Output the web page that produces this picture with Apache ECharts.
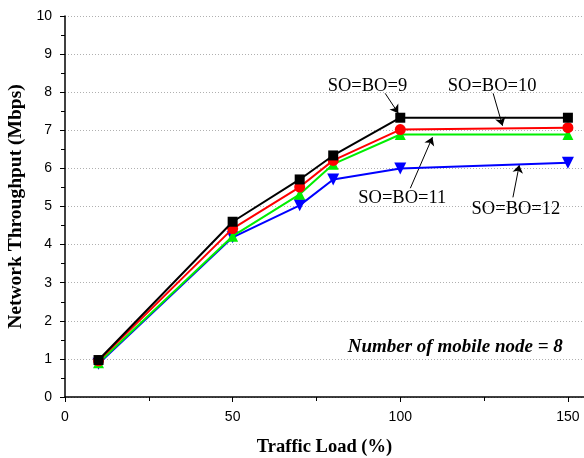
<!DOCTYPE html>
<html>
<head>
<meta charset="utf-8">
<script src="https://cdn.jsdelivr.net/npm/echarts@6/dist/echarts.min.js"></script>
<style>
html,body{margin:0;padding:0;background:#fff;}
#chart{width:584px;height:458px;}
</style>
</head>
<body>
<div id="chart"></div>
<script>
var trafficLoad = [10, 50, 70, 80, 100, 150];
var so9  = [0.97, 4.60, 5.71, 6.34, 7.33, 7.33];
var so10 = [0.95, 4.42, 5.51, 6.21, 7.02, 7.07];
var so11 = [0.90, 4.22, 5.32, 6.11, 6.89, 6.89];
var so12 = [0.87, 4.19, 5.03, 5.71, 6.00, 6.15];
var seriesNames = ['SO=BO=9', 'SO=BO=10', 'SO=BO=11', 'SO=BO=12'];
var xTicks = [0, 50, 100, 150];
var xAxisEnd = 154.8;
var yTicks = [0,1,2,3,4,5,6,7,8,9,10];

// annotation label positions and arrows (data coords)
var labelPos = [[90.2, 8.15], [127.4, 8.15], [100.6, 5.22], [134.5, 4.93]];
var arrows = [
  [[95.5, 7.97], [99.4, 7.45]],
  [[127.7, 7.97], [130.5, 7.12]],
  [[103.0, 5.48], [109.6, 6.82]],
  [[133.6, 5.24], [135.5, 6.09]]
];
var noteText = 'Number of mobile node = 8';
var notePos = [116.4, 1.31];

function pairs(ys){ return trafficLoad.map(function(x,i){ return [x, ys[i]]; }); }

var colors = ['#000000', '#ff0000', '#00ee00', '#0000ff'];
var symbols = ['rect', 'circle', 'triangle', 'path://M0,0 L10,0 L5,9 Z'];
var sizes = [10, 11, 11, 12];
var datasets = [so9, so10, so11, so12];

var series = datasets.map(function(d, i){
  return {
    name: seriesNames[i],
    type: 'line',
    data: pairs(d),
    symbol: symbols[i],
    symbolSize: sizes[i],
    showAllSymbol: true,
    z: 10 - i,
    lineStyle: {color: colors[i], width: 2},
    itemStyle: {color: colors[i]},
    animation: false
  };
});

series.push({
  type: 'scatter',
  data: [],
  silent: true,
  animation: false,
  itemStyle: {color: '#000'},
  markLine: {
    silent: true,
    animation: false,
    symbol: ['none', 'arrow'],
    symbolSize: 8,
    itemStyle: {color: '#000'},
    lineStyle: {color: '#000', width: 1, type: 'solid'},
    label: {show: false},
    data: arrows.map(function(a){ return [{coord: a[0]}, {coord: a[1]}]; })
  },
  markPoint: {
    silent: true,
    animation: false,
    symbol: 'circle',
    symbolSize: 0,
    data: labelPos.map(function(p, i){
      return {
        coord: p,
        label: {show: true, position: 'inside', formatter: seriesNames[i],
          color: '#000', fontFamily: 'Liberation Serif', fontSize: 18.5}
      };
    }).concat([{
      coord: notePos,
      label: {show: true, position: 'inside', formatter: noteText,
        color: '#000', fontFamily: 'Liberation Serif', fontSize: 19,
        fontWeight: 'bold', fontStyle: 'italic'}
    }])
  }
});

var chart = echarts.init(document.getElementById('chart'));
chart.setOption({
  animation: false,
  backgroundColor: '#fff',
  grid: {left: 65, right: 0, top: 16, bottom: 61, containLabel: false, outerBoundsMode: 'none'},
  xAxis: {
    type: 'value',
    min: xTicks[0], max: xAxisEnd, interval: 50,
    name: 'Traffic Load (%)',
    nameLocation: 'middle', nameGap: 41,
    nameTextStyle: {fontFamily: 'Liberation Serif', fontWeight: 'bold', fontSize: 18.5, color: '#000', padding: [0, 0, 0, 0]},
    axisLine: {lineStyle: {color: '#000', width: 1.5}},
    axisTick: {inside: false, length: 5, lineStyle: {color: '#000', width: 1},
      customValues: xTicks},
    minorTick: {show: true, splitNumber: 2, length: 4, lineStyle: {color: '#000', width: 1}},
    axisLabel: {color: '#000', fontFamily: 'Liberation Sans', fontSize: 14, margin: 13,
      customValues: xTicks},
    splitLine: {show: false}
  },
  yAxis: {
    type: 'value',
    min: yTicks[0], max: yTicks[yTicks.length-1], interval: 1,
    name: 'Network Throughput (Mbps)',
    nameLocation: 'middle', nameGap: 34, nameRotate: 90,
    nameTextStyle: {fontFamily: 'Liberation Serif', fontWeight: 'bold', fontSize: 19.5, color: '#000'},
    axisLine: {show: true, lineStyle: {color: '#000', width: 1.5}},
    axisTick: {show: true, inside: false, length: 5, lineStyle: {color: '#000', width: 1}},
    minorTick: {show: true, splitNumber: 2, length: 4, lineStyle: {color: '#000', width: 1}},
    axisLabel: {color: '#000', fontFamily: 'Liberation Sans', fontSize: 14, margin: 13},
    splitLine: {show: true, lineStyle: {color: '#b0b0b0', type: [1, 2], width: 1}}
  },
  series: series
});
</script>
</body>
</html>
